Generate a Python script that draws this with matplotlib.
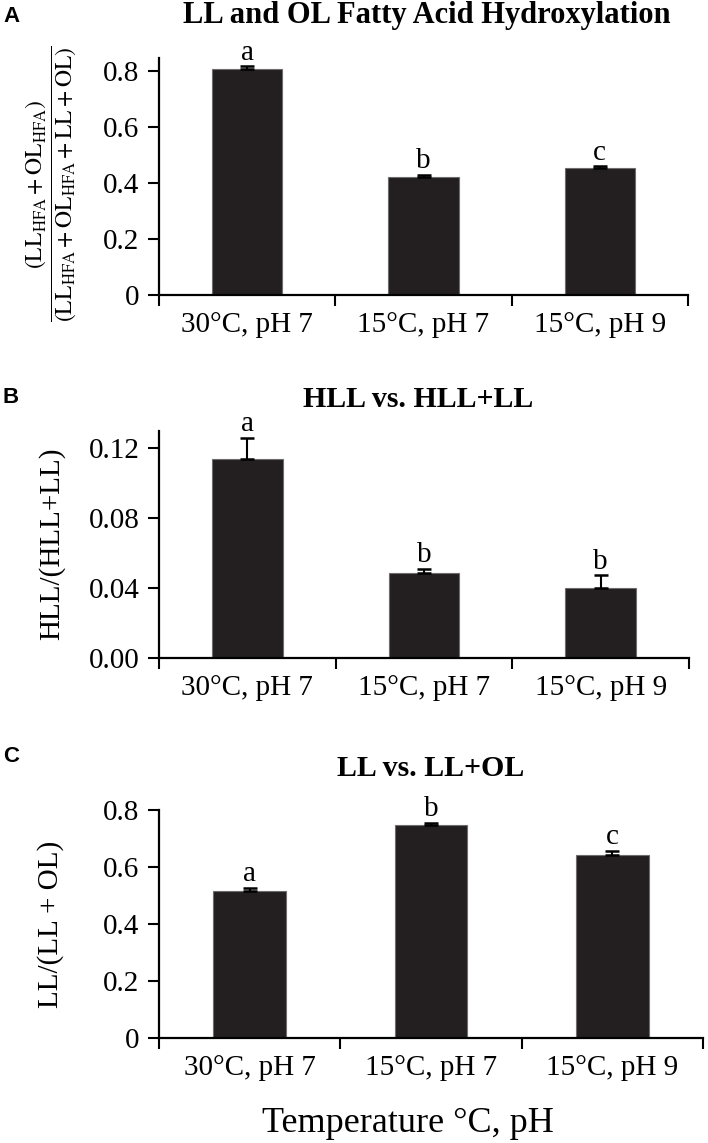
import matplotlib
matplotlib.use("Agg")
import matplotlib.pyplot as plt
import numpy as np

plt.rcParams['font.family'] = ['Liberation Serif', 'DejaVu Serif']
plt.rcParams['mathtext.fontset'] = 'stix'

categories = ["30°C, pH 7", "15°C, pH 7", "15°C, pH 9"]

a_vals = [0.807, 0.423, 0.452]
a_err = [0.010, 0.007, 0.007]
a_letters = ["a", "b", "c"]
a_ticks = [0, 0.2, 0.4, 0.6, 0.8]
a_ticklabels = ["0", "0.2", "0.4", "0.6", "0.8"]

b_vals = [0.1137, 0.0488, 0.0400]
b_err = [0.0120, 0.0022, 0.0072]
b_letters = ["a", "b", "b"]
b_ticks = [0.0, 0.04, 0.08, 0.12]
b_ticklabels = ["0.00", "0.04", "0.08", "0.12"]

c_vals = [0.516, 0.748, 0.643]
c_err = [0.010, 0.007, 0.012]
c_letters = ["a", "b", "c"]
c_ticks = [0, 0.2, 0.4, 0.6, 0.8]
c_ticklabels = ["0", "0.2", "0.4", "0.6", "0.8"]

W, H = 708, 1143
fig = plt.figure(figsize=(W / 100, H / 100), dpi=100)

def px_axes(left, right, top, bottom):
    return fig.add_axes([left / W, (H - bottom) / H, (right - left) / W, (bottom - top) / H])

BAR = '#231f20'
TS = 21

def panel(ax, vals, err, letters, ticks, ticklabels, ymax, letter_pad):
    x = np.arange(len(vals))
    ax.bar(x, vals, width=0.4, color=BAR, edgecolor='#6d6d6d', linewidth=0.8, zorder=2)
    ax.errorbar(x, vals, yerr=[np.zeros(len(vals)), err], fmt='none', ecolor='black',
                elinewidth=1.5, capsize=5, capthick=1.8, zorder=3)
    for xi, v, e, l in zip(x, vals, err, letters):
        ax.text(xi, v + e + letter_pad, l, ha='center', va='bottom', fontsize=TS)
    ax.set_xlim(-0.5, 2.5)
    ax.set_ylim(0, ymax)
    ax.set_yticks(ticks)
    ax.set_yticklabels(ticklabels, fontsize=TS)
    ax.set_xticks(x)
    ax.set_xticklabels(categories, fontsize=TS)
    ax.set_xticks([-0.5, 0.5, 1.5, 2.5], minor=True)
    ax.tick_params(axis='x', which='major', length=0, pad=12)
    ax.tick_params(axis='x', which='minor', length=8, width=1.5, direction='out')
    ax.tick_params(axis='y', length=8, width=1.5, direction='out', pad=6)
    for s in ['top', 'right']:
        ax.spines[s].set_visible(False)
    for s in ['left', 'bottom']:
        ax.spines[s].set_linewidth(1.6)
    ax.spines['bottom'].set_zorder(4)

def ftext(xp, yp, s, **kw):
    return fig.text(xp / W, 1 - yp / H, s, **kw)

axA = px_axes(159, 688, 58, 295)
panel(axA, a_vals, a_err, a_letters, a_ticks, a_ticklabels, 0.846, 0.002)
ftext(51, 184, r'$\dfrac{(\mathrm{LL_{HFA}+OL_{HFA}})}{(\mathrm{LL_{HFA}+OL_{HFA}+LL+OL})}$',
      fontsize=17, rotation=90, ha='center', va='center')

axB = px_axes(159, 689, 431, 658)
panel(axB, b_vals, b_err, b_letters, b_ticks, b_ticklabels, 0.1297, 0.0005)
ftext(52, 544, 'HLL/(HLL+LL)', fontsize=TS, rotation=90, ha='center', va='center')

axC = px_axes(159, 703, 810, 1038)
panel(axC, c_vals, c_err, c_letters, c_ticks, c_ticklabels, 0.8, 0.004)
ftext(51, 924, 'LL/(LL + OL)', fontsize=TS, rotation=90, ha='center', va='center')
ftext(262, 1132, 'Temperature °C, pH', fontsize=26, ha='left', va='baseline')

ftext(427, 15, 'LL and OL Fatty Acid Hydroxylation', ha='center', va='center',
      fontsize=22, fontweight='bold')
ftext(418, 400, 'HLL vs. HLL+LL', ha='center', va='center',
      fontsize=21.5, fontweight='bold')
ftext(431, 768, 'LL vs. LL+OL', ha='center', va='center',
      fontsize=21.5, fontweight='bold')

for lab, yp in [('A', 16), ('B', 397), ('C', 757)]:
    ftext(3, yp, lab, ha='left', va='center', fontsize=16, fontweight='bold',
          family=['Liberation Sans', 'DejaVu Sans'])

fig.savefig('out.png', dpi=100)
